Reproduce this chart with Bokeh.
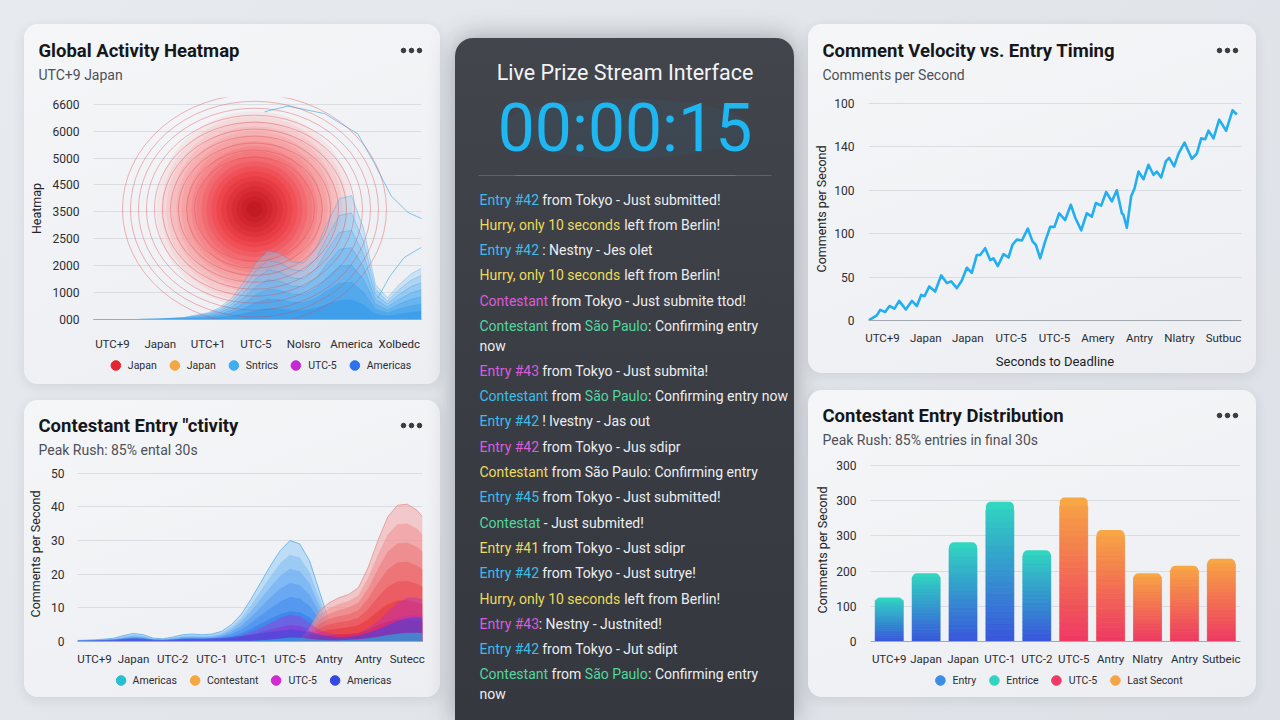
from bokeh.plotting import figure
from bokeh.models import Range1d, Legend, LegendItem, FixedTicker
from bokeh.layouts import row, column
from bokeh.embed import file_html
from bokeh.resources import INLINE
from bokeh.core.properties import value

# ======================= DATA =======================
# --- Global Activity Heatmap (top-left)
heat_x_labels = ["UTC+9", "Japan", "UTC+1", "UTC-5", "Nolsro", "America", "Xolbedc"]
heat_y_labels = ["000", "1000", "2000", "2500", "3500", "4500", "5000", "6000", "6600"]
heat_legend = ["Japan", "Japan", "Sntrics", "UTC-5", "Americas"]
heat_hot_x = 2.97
heat_hot_y = 4.1
heat_core_diam = [196, 186, 176, 166, 156, 146, 136, 126, 116, 106, 96, 86, 76, 66, 56, 46, 36, 26, 16]
heat_ring_diam = [120, 136, 152, 168, 184, 200, 216, 232, 248, 264]
heat_blue_x = [-0.4, 0.5, 1.0, 1.5, 2.0, 2.25, 2.5, 2.75, 3.0, 3.25, 3.5, 3.75, 4.0, 4.25,
               4.5, 4.75, 5.0, 5.25, 5.5, 5.75, 6.0, 6.25, 6.46]
heat_blue_y = [0, 0, 0.02, 0.08, 0.25, 0.45, 0.8, 1.4, 2.1, 2.55, 2.45, 2.15, 2.1, 2.6,
               3.6, 4.5, 4.6, 3.4, 1.3, 0.8, 1.3, 1.7, 1.9]
heat_trace_x = [3.18, 3.67, 4.44, 5.13, 5.48, 5.83, 6.18, 6.49]
heat_trace_y = [7.72, 7.93, 7.65, 6.9, 5.8, 4.59, 3.98, 3.73]
heat_trace2_x = [5.55, 5.8, 6.1, 6.46]
heat_trace2_y = [0.8, 1.6, 2.3, 2.68]

# --- Contestant Entry Activity (bottom-left)
act_x_labels = ["UTC+9", "Japan", "UTC-2", "UTC-1", "UTC-1", "UTC-5", "Antry", "Antry", "Sutecc"]
act_legend = ["Americas", "Contestant", "UTC-5", "Americas"]
act_x = [-0.43, 0, 0.25, 0.5, 0.75, 1, 1.25, 1.5, 1.75, 2, 2.25, 2.5, 2.75, 3, 3.25, 3.5,
         3.75, 4, 4.25, 4.5, 4.75, 5, 5.25, 5.5, 5.75, 6, 6.25, 6.5, 6.75, 7, 7.25, 7.5,
         7.75, 8, 8.25, 8.39]
act_blue = [0.3, 0.5, 0.7, 1.0, 1.8, 2.4, 2.0, 1.0, 0.8, 1.3, 2.0, 2.2, 2.0, 2.2, 3.0, 5.0,
            8.0, 12.5, 17.5, 22.5, 27.0, 30.0, 29.0, 24.0, 15.0, 6.0, 2.5, 1.5, 1.5, 1.5,
            1.5, 1.5, 1.5, 1.5, 1.5, 1.5]
act_red = [0, 0, 0, 0, 0, 0, 0, 0, 0, 0, 0, 0, 0, 0, 0, 0, 0, 0, 0, 0, 0, 0,
           0.5, 4, 9, 11.5, 13, 14, 16, 22, 30, 37, 40.5, 40.8, 39, 37]
act_magenta = [0.2, 0.3, 0.3, 0.4, 0.5, 0.6, 0.5, 0.4, 0.4, 0.5, 0.6, 0.7, 0.7, 0.8, 0.9,
               1.2, 1.8, 2.8, 4.0, 5.5, 7.0, 8.0, 7.5, 5.5, 3.5, 2.5, 2.0, 2.0, 2.5, 4.0,
               6.0, 9.0, 11.5, 13.0, 13.0, 12.5]
act_navy = [0.3, 0.4, 0.5, 0.6, 0.8, 1.0, 0.9, 0.6, 0.5, 0.6, 0.8, 0.9, 0.9, 1.0, 1.1, 1.3,
            1.6, 2.0, 2.4, 2.8, 3.2, 3.5, 3.3, 2.8, 2.0, 1.5, 1.3, 1.4, 1.8, 2.6, 3.6, 4.8,
            6.0, 7.0, 7.2, 7.0]
act_teal = [0.2, 0.2, 0.2, 0.2, 0.2, 0.2, 0.2, 0.2, 0.2, 0.2, 0.2, 0.2, 0.2, 0.2, 0.2, 0.2,
            0.2, 0.2, 0.4, 0.6, 0.9, 1.2, 1.1, 0.8, 0.5, 0.4, 0.4, 0.5, 0.7, 1.0, 1.4, 1.9,
            2.3, 2.6, 2.6, 2.5]

# --- Comment Velocity vs. Entry Timing (top-right)
vel_x_labels = ["UTC+9", "Japan", "Japan", "UTC-5", "UTC-5", "Amery", "Antry", "Nlatry", "Sutbuc"]
vel_x_ticks = [42, 172, 298, 428, 558, 688, 813, 933, 1065]
vel_y_labels = ["0", "50", "100", "100", "140", "100"]
vel_y_ticks = [0, 50, 102, 153, 204, 255]
vel_t = [0, 25, 35, 50, 63, 78, 92, 112, 130, 145, 158, 168, 182, 200, 218, 235, 248, 265,
         280, 295, 310, 325, 335, 350, 365, 375, 388, 405, 420, 432, 445, 460, 478, 492,
         502, 515, 530, 545, 558, 572, 590, 607, 620, 638, 655, 670, 682, 698, 713, 730,
         745, 760, 765, 775, 788, 798, 810, 825, 840, 855, 865, 878, 892, 902, 917, 930,
         948, 970, 985, 998, 1010, 1020, 1035, 1052, 1073, 1092, 1105]
vel_v = [0, 6, 12.5, 10, 17, 14, 23, 13, 23, 17, 30, 28.5, 40, 34, 53, 44, 46, 38, 47, 62,
         56, 77, 77, 85, 71, 73, 64, 78, 74, 89, 95, 94, 108, 93, 89, 73, 93, 110, 110, 126,
         118, 136, 121, 106, 126, 122, 138, 135, 151, 140, 153, 126, 124, 109, 146, 155, 175,
         166, 183, 171, 175, 168, 187, 191, 181, 196, 209, 190, 196, 214, 213, 223, 214, 236,
         223, 247, 242]

# --- Contestant Entry Distribution (bottom-right)
dist_x_labels = ["UTC+9", "Japan", "Japan", "UTC-1", "UTC-2", "UTC-5", "Antry", "Nlatry", "Antry", "Sutbeic"]
dist_values = [125, 194, 282, 397, 259, 409, 317, 194, 215, 235]
dist_group = ["early", "early", "early", "early", "early", "late", "late", "late", "late", "late"]
dist_y_labels = ["0", "100", "200", "300", "300", "300"]
dist_legend = ["Entry", "Entrice", "UTC-5", "Last Secont"]

# --- Live feed (center)
feed = [
    [("Entry #42", "cyan"), (" from Tokyo - Just submitted!", "white")],
    [("Hurry, only 10 seconds", "yellow"), (" left from Berlin!", "white")],
    [("Entry #42", "cyan"), (" : Nestny - Jes olet", "white")],
    [("Hurry, only 10 seconds", "yellow"), (" left from Berlin!", "white")],
    [("Contestant", "magenta"), (" from Tokyo - Just submite ttod!", "white")],
    [("Contestant", "green"), (" from ", "white"), ("São Paulo", "green"), (": Confirming entry", "white"), ("\nnow", "white")],
    [("Entry #43", "magenta"), (" from Tokyo - Just submita!", "white")],
    [("Contestant", "cyan"), (" from ", "white"), ("São Paulo", "green"), (": Confirming entry now", "white")],
    [("Entry #42", "cyan"), (" ! lvestny - Jas out", "white")],
    [("Entry #42", "magenta"), (" from Tokyo - Jus sdipr", "white")],
    [("Contestant", "yellow"), (" from São Paulo: Confirming entry", "white")],
    [("Entry #45", "cyan"), (" from Tokyo - Just submitted!", "white")],
    [("Contestat", "green"), (" - Just submited!", "white")],
    [("Entry #41", "yellow"), (" from Tokyo - Just sdipr", "white")],
    [("Entry #42", "cyan"), (" from Tokyo - Just sutrye!", "white")],
    [("Hurry, only 10 seconds", "yellow"), (" left from Berlin!", "white")],
    [("Entry #43", "magenta"), (": Nestny - Justnited!", "white")],
    [("Entry #42", "cyan"), (" from Tokyo - Jut sdipt", "white")],
    [("Contestant", "green"), (" from ", "white"), ("São Paulo", "green"), (": Confirming entry", "white"), ("\nnow", "white")],
]

# ======================= STYLE =======================
FONT = "Roboto"
PAGE_BG = "linear-gradient(135deg, #e7eaee 0%, #dde0e6 100%)"
CARD_BG = "linear-gradient(160deg, #f5f6f8 0%, #eceef2 100%)"
TITLE_C = "#16171a"
SUB_C = "#4d5058"
TICK_C = "#2b2d33"
GRID_C = "#d9dce1"


def hex2rgb(h):
    h = h.lstrip("#")
    return tuple(int(h[i:i + 2], 16) for i in (0, 2, 4))


def lerp(c0, c1, t):
    a, b = hex2rgb(c0), hex2rgb(c1)
    return "#%02x%02x%02x" % tuple(round(a[i] + (b[i] - a[i]) * t) for i in range(3))


def blank(W, H, xr, yr, align=True):
    p = figure(width=W, height=H, x_range=xr, y_range=yr, output_backend="svg",
               toolbar_location=None, x_axis_type=None, y_axis_type=None, min_border=0,
               background_fill_alpha=0, border_fill_alpha=0, outline_line_color=None,
               frame_align=align)
    p.grid.visible = False
    return p


def header(W, title, subtitle, ty, H=60):
    p = blank(W, H, Range1d(0, W), Range1d(H, 0), align=False)
    p.text(x=[14], y=[ty], text=[title], text_font=value(FONT), text_font_size="18.5px",
           text_font_style="bold", text_color=TITLE_C, text_baseline="middle")
    p.text(x=[14], y=[ty + 24], text=[subtitle], text_font=value(FONT), text_font_size="14px",
           text_color=SUB_C, text_baseline="middle")
    p.scatter(x=[W - 37, W - 29, W - 21], y=[ty] * 3, size=4.6, marker="circle",
              color="#3a3b40")
    return p


def footer(W, H, labels, colors, spacing):
    p = blank(W, H, Range1d(0, 1), Range1d(0, 1))
    items = []
    for lab, col in zip(labels, colors):
        r = p.scatter(x=[5], y=[5], marker="circle", fill_color=col, line_color=col)
        items.append(LegendItem(label=lab, renderers=[r]))
    leg = Legend(items=items, orientation="horizontal", location="top_center",
                 label_text_font=FONT, label_text_font_size="10.5px", label_text_color=TICK_C,
                 glyph_width=25, glyph_height=24, label_height=22, label_standoff=0,
                 spacing=spacing, padding=0, margin=0,
                 background_fill_alpha=0, border_line_alpha=0)
    p.add_layout(leg)
    return p


def chart(W, H, L, R, T, B, xr, yr):
    p = figure(width=W, height=H, x_range=xr, y_range=yr, output_backend="svg",
               toolbar_location=None, min_border_left=L, min_border_right=R,
               min_border_top=T, min_border_bottom=B,
               background_fill_alpha=0, border_fill_alpha=0, outline_line_color=None)
    p.xgrid.grid_line_color = None
    p.ygrid.grid_line_color = GRID_C
    p.yaxis.axis_line_color = None
    p.yaxis.major_tick_line_color = None
    p.yaxis.minor_tick_line_color = None
    p.yaxis.major_label_text_font = FONT
    p.yaxis.major_label_text_font_size = "12px"
    p.yaxis.major_label_text_color = TICK_C
    p.yaxis.major_label_standoff = 8
    p.yaxis.axis_label_text_font = FONT
    p.yaxis.axis_label_text_font_size = "12.5px"
    p.yaxis.axis_label_text_font_style = "normal"
    p.yaxis.axis_label_text_color = "#222326"
    p.xaxis.axis_line_color = "#a3a7ae"
    p.xaxis.major_tick_line_color = None
    p.xaxis.minor_tick_line_color = None
    p.xaxis.major_label_text_font = FONT
    p.xaxis.major_label_text_font_size = "11.5px"
    p.xaxis.major_label_text_color = TICK_C
    p.xaxis.major_label_standoff = 4
    p.xaxis.axis_label_text_font = FONT
    p.xaxis.axis_label_text_font_size = "13px"
    p.xaxis.axis_label_text_font_style = "normal"
    p.xaxis.axis_label_text_color = "#222326"
    return p


def card(children, W, H, margin):
    return column(*children, width=W, height=H, spacing=0, margin=margin,
                  styles={"border-radius": "14px", "overflow": "hidden", "background": CARD_BG,
                          "box-shadow": "0 3px 12px rgba(40,50,70,0.10)"})


def set_ticks(axis, ticks, labels):
    axis.ticker = FixedTicker(ticks=ticks)
    axis.major_label_overrides = {t: l for t, l in zip(ticks, labels)}


# ======================= TOP-LEFT: heatmap =======================
tl = chart(416, 269, 69, 19, 13, 30, Range1d(-0.397, 6.464), Range1d(0, 8.25))
set_ticks(tl.yaxis, list(range(len(heat_y_labels))), heat_y_labels)
set_ticks(tl.xaxis, list(range(len(heat_x_labels))), heat_x_labels)
tl.yaxis.axis_label = "Heatmap"
tl.yaxis.axis_label_standoff = 6
tl.xaxis.major_label_standoff = 11

n = len(heat_core_diam)
core_cols = []
for i in range(n):
    t = i / (n - 1)
    core_cols.append(lerp("#f9c6c6", "#ee3038", t / 0.6) if t < 0.6 else lerp("#ee3038", "#b00e18", (t - 0.6) / 0.4))
tl.scatter(x=[heat_hot_x] * n, y=[heat_hot_y] * n, size=heat_core_diam, marker="circle",
           fill_color=core_cols, fill_alpha=0.28, line_color=None)

bands = [1.0, 0.86, 0.72, 0.58, 0.44, 0.30, 0.16]
for j, k in enumerate(bands):
    ys = [v * k for v in heat_blue_y]
    col = lerp("#8fcaf5", "#1c8de8", j / (len(bands) - 1))
    tl.varea(x=heat_blue_x, y1=0, y2=ys, fill_color=col, fill_alpha=0.36)
    tl.line(heat_blue_x, ys, line_color="#3a9fe8", line_alpha=0.45, line_width=0.8)
tl.line(heat_trace_x, heat_trace_y, line_color="#4fb0e8", line_alpha=0.7, line_width=1)
tl.line(heat_trace2_x, heat_trace2_y, line_color="#4fb0e8", line_alpha=0.7, line_width=1)

nr = len(heat_ring_diam)
tl.ellipse(x=[heat_hot_x] * nr, y=[heat_hot_y] * nr, width=heat_ring_diam,
           height=[d * 0.87 for d in heat_ring_diam], width_units="screen", height_units="screen",
           fill_color=None, line_color="#e04a4f", line_alpha=0.5, line_width=0.8)

tl_card = card([header(416, "Global Activity Heatmap", "UTC+9 Japan", 26), tl,
                footer(416, 31, heat_legend, ["#e3262f", "#f5a742", "#41aef0", "#c42bd6", "#2f72ee"], 5)],
               416, 360, (24, 0, 0, 24))

# ======================= BOTTOM-LEFT: activity =======================
bl = chart(416, 208, 53, 18, 6, 22, Range1d(-0.435, 8.39), Range1d(0, 52))
set_ticks(bl.yaxis, [0, 10, 20, 30, 40, 50], ["0", "10", "20", "30", "40", "50"])
set_ticks(bl.xaxis, list(range(len(act_x_labels))), act_x_labels)
bl.yaxis.axis_label = "Comments per Second"
bl.yaxis.axis_label_standoff = 5
bl.yaxis.major_label_standoff = 7

for j, k in enumerate(bands):
    ys = [v * k for v in act_blue]
    col = lerp("#8cc8f6", "#1a68e8", j / (len(bands) - 1))
    bl.varea(x=act_x, y1=0, y2=ys, fill_color=col, fill_alpha=0.5)
    if j == 0:
        bl.line(act_x, ys, line_color="#5aaeea", line_alpha=0.8, line_width=1)
for j, k in enumerate(bands):
    ys = [v * k for v in act_red]
    col = lerp("#f3a0a0", "#e51820", j / (len(bands) - 1))
    bl.varea(x=act_x, y1=0, y2=ys, fill_color=col, fill_alpha=0.5)
    if j == 0:
        bl.line(act_x, ys, line_color="#e87a7a", line_alpha=0.6, line_width=1)
for k in [1.0, 0.6]:
    bl.varea(x=act_x, y1=0, y2=[v * k for v in act_magenta], fill_color="#b02ad0", fill_alpha=0.38)
bl.varea(x=act_x, y1=0, y2=act_navy, fill_color="#3545dc", fill_alpha=0.5)
bl.varea(x=act_x, y1=0, y2=act_teal, fill_color="#26b4d8", fill_alpha=0.6)

bl_card = card([header(416, 'Contestant Entry "ctivity', "Peak Rush: 85% ental 30s", 25), bl,
                footer(416, 29, act_legend, ["#27c0cf", "#f5a742", "#d02bd0", "#3548e0"], 5)],
               416, 297, (16, 0, 0, 24))

# ======================= TOP-RIGHT: velocity =======================
tr = chart(448, 289, 60, 15, 13, 53, Range1d(0, 1119), Range1d(0, 262))
set_ticks(tr.yaxis, vel_y_ticks, vel_y_labels)
set_ticks(tr.xaxis, vel_x_ticks, vel_x_labels)
tr.yaxis.axis_label = "Comments per Second"
tr.yaxis.axis_label_standoff = 2
tr.xaxis.axis_label = "Seconds to Deadline"
tr.xaxis.axis_label_standoff = 6
tr.line(vel_t, vel_v, line_color="#22aef0", line_width=2.6, line_join="round")
tr_card = card([header(448, "Comment Velocity vs. Entry Timing", "Comments per Second", 26), tr],
               448, 349, (24, 24, 0, 14))

# ======================= BOTTOM-RIGHT: distribution =======================
br = chart(448, 218, 62, 16, 8, 22, Range1d(-0.507, 9.52), Range1d(0, 520))
set_ticks(br.yaxis, [0, 100, 200, 300, 400, 500], dist_y_labels)
set_ticks(br.xaxis, list(range(len(dist_x_labels))), dist_x_labels)
br.yaxis.axis_label = "Comments per Second"
br.yaxis.axis_label_standoff = 3

GRAD = {"early": ("#31d6c1", "#3a55dc"), "late": ("#f7a744", "#ee3864")}
base_x, base_top, base_col = [], [], []
sx, sb, st, sc = [], [], [], []
SL = 22
for i, (v, g) in enumerate(zip(dist_values, dist_group)):
    top_c, bot_c = GRAD[g]
    base_x.append(i)
    base_top.append(v)
    base_col.append(top_c)
    for j in range(SL):
        sx.append(i)
        sb.append(v * 0.94 * j / SL)
        st.append(v * 0.94 * (j + 1) / SL)
        sc.append(lerp(bot_c, top_c, (j + 0.5) / SL * 0.94))
br.vbar(x=base_x, width=0.76, bottom=0, top=base_top, fill_color=base_col, line_color=None,
        border_radius=(5, 5, 0, 0))
br.vbar(x=sx, width=0.76, bottom=sb, top=st, fill_color=sc, line_color=sc, line_width=0.6)

br_card = card([header(448, "Contestant Entry Distribution", "Peak Rush: 85% entries in final 30s", 25), br,
                footer(448, 29, dist_legend, ["#3a8ee6", "#30d3bf", "#ee3a66", "#f5a445"], 5)],
               448, 307, (17, 24, 0, 14))

# ======================= CENTER: live feed =======================
CW, CH = 339, 682
cp = blank(CW, CH, Range1d(0, CW), Range1d(CH, 0), align=False)
cp.margin = (38, 0, 0, 15)
cp.styles = {"border-radius": "18px 18px 0 0", "overflow": "hidden",
             "background": "linear-gradient(180deg, #42454c 0%, #393c43 55%, #35383e 100%)",
             "box-shadow": "0 0 26px rgba(20,25,35,0.35)"}

cp.text(x=[CW / 2], y=[34], text=["Live Prize Stream Interface"], text_align="center",
        text_baseline="middle", text_font=value(FONT), text_font_size="21.5px", text_color="#f3f4f6")
cp.ellipse(x=[CW / 2], y=[90], width=[250], height=[60], fill_color="#1cb5f0", fill_alpha=0.05,
           line_color=None)
cp.text(x=[CW / 2], y=[90], text=["00:00:15"], text_align="center", text_baseline="middle",
        text_font=value(FONT), text_font_size="66px", text_color="#1fb7f2")
cp.segment(x0=[23, 60], y0=[137, 137], x1=[316, 280], y1=[137, 137],
           line_color="#6f93a3", line_alpha=0.45, line_width=1)

RW = {" ": .248, "!": .258, "#": .603, "-": .276, ",": .196, ".": .263, ":": .242,
      "0": .561, "1": .561, "2": .561, "3": .561, "4": .561, "5": .561, "6": .561, "7": .561,
      "8": .561, "9": .561, "B": .622, "C": .652, "E": .568, "H": .713, "J": .552, "N": .713,
      "P": .631, "S": .615, "T": .614, "a": .544, "b": .561, "c": .523, "d": .564, "e": .530,
      "f": .347, "g": .561, "h": .551, "i": .243, "j": .239, "k": .507, "l": .243, "m": .876,
      "n": .552, "o": .570, "p": .561, "q": .568, "r": .338, "s": .516, "t": .327, "u": .551,
      "v": .484, "w": .751, "x": .496, "y": .473, "z": .496, "ã": .544}
FS = 14
FEED_COL = {"cyan": "#3dbde9", "yellow": "#ecdb5e", "magenta": "#da5cdd",
            "green": "#52d69e", "white": "#eceef1"}


def tw(s):
    return sum(RW.get(ch, 0.55) for ch in s) * FS


fx, fy, ft, fc = [], [], [], []
y = 161
for line in feed:
    x = 24
    for seg, key in line:
        if seg.startswith("\n"):
            y += 19.5
            x = 24
            seg = seg[1:]
        stripped = seg.lstrip(" ")
        x += (len(seg) - len(stripped)) * RW[" "] * FS
        fx.append(x)
        fy.append(y)
        ft.append(stripped.rstrip(" "))
        fc.append(FEED_COL[key])
        x += tw(stripped)
    y += 25.3
cp.text(x=fx, y=fy, text=ft, text_color=fc, text_align="left", text_baseline="middle",
        text_font=value(FONT), text_font_size="14px")

# ======================= LAYOUT =======================
left = column(tl_card, bl_card, spacing=0)
right = column(tr_card, br_card, spacing=0)
root = row(left, cp, right, spacing=0, width=1280, height=720)
root.styles = {"background": PAGE_BG}

open("out.html", "w").write(file_html(root, INLINE))
